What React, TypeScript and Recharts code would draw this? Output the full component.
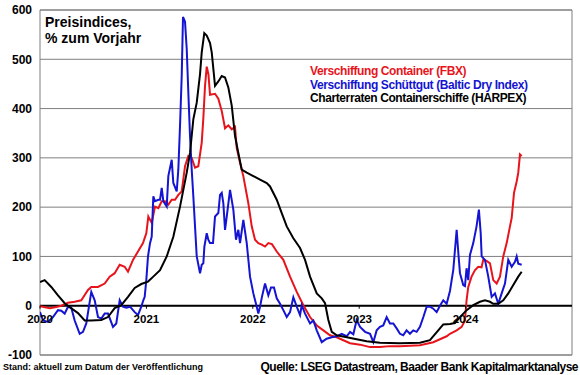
import React from 'react';
import { LineChart, Line, XAxis, YAxis, CartesianGrid, ReferenceLine, ReferenceArea } from 'recharts';

const FONT = 'Arial, "Liberation Sans", sans-serif';
const W = 580;
const H = 375;
const Y_MIN = -100;
const Y_MAX = 600;
const PLOT_TOP = 10;
const PLOT_BOTTOM = 355;

const yTicks = [-100, 0, 100, 200, 300, 400, 500, 600];
const xTicks = [2020, 2021, 2022, 2023, 2024];

const titleLines = ['Preisindices,', '% zum Vorjahr'];
const seriesNames = [
  'Verschiffung Container (FBX)',
  'Verschiffung Schüttgut (Baltic Dry Index)',
  'Charterraten Containerschiffe (HARPEX)',
];
const seriesColors = ['#e8141c', '#1414d2', '#000000'];
const footLeft = 'Stand: aktuell zum Datum der Veröffentlichung';
const footRight = 'Quelle: LSEG Datastream, Baader Bank Kapitalmarktanalyse';

// FBX (decimal year, % yoy)
const fbxDates = [
  2020.000, 2020.047, 2020.094, 2020.141, 2020.200, 2020.263, 2020.326, 2020.388, 2020.451, 2020.482,
  2020.545, 2020.608, 2020.655, 2020.702, 2020.749, 2020.796, 2020.827, 2020.874, 2020.921, 2020.968,
  2020.999, 2021.018, 2021.050, 2021.081, 2021.112, 2021.144, 2021.175, 2021.206, 2021.238, 2021.269,
  2021.300, 2021.332, 2021.363, 2021.394, 2021.426, 2021.457, 2021.488, 2021.520, 2021.535, 2021.551,
  2021.567, 2021.583, 2021.598, 2021.645, 2021.676, 2021.708, 2021.739, 2021.770, 2021.802, 2021.833,
  2021.849, 2021.880, 2021.911, 2021.958, 2021.990, 2022.021, 2022.052, 2022.084, 2022.115, 2022.146,
  2022.180, 2022.225, 2022.287, 2022.350, 2022.413, 2022.475, 2022.538, 2022.601, 2022.663, 2022.726,
  2022.789, 2022.851, 2022.914, 2023.008, 2023.102, 2023.195, 2023.289, 2023.383, 2023.477, 2023.571,
  2023.634, 2023.696, 2023.759, 2023.822, 2023.853, 2023.916, 2023.963, 2023.994, 2024.009, 2024.025,
  2024.056, 2024.087, 2024.119, 2024.150, 2024.166, 2024.198, 2024.229, 2024.260, 2024.292, 2024.323,
  2024.354, 2024.386, 2024.417, 2024.433, 2024.455, 2024.480, 2024.495, 2024.511, 2024.527,
];
const fbxValues = [
  -1, -3, -5, -3, 0, 6, 8, 11, 32, 38,
  38, 45, 59, 66, 83, 79, 69, 93, 110, 127,
  147, 181, 168, 201, 198, 212, 212, 205, 215, 215,
  225, 232, 283, 304, 300, 280, 283, 331, 380, 446,
  485, 470, 428, 430, 420, 395, 360, 366, 358, 363,
  320, 290, 263, 208, 161, 134, 127, 124, 120, 127,
  125, 110, 93, 59, 28, 1, -23, -40, -50, -60,
  -64, -70, -76, -79, -84, -84, -82, -82, -81, -80,
  -77, -74, -68, -62, -57, -50, -43, -30, 11, 38,
  59, 72, 79, 78, 93, 91, 86, 52, 45, 59,
  100, 127, 161, 178, 229, 252, 270, 307, 304,
];

// Baltic Dry Index
const bdiDates = [
  2020.000, 2020.028, 2020.075, 2020.122, 2020.169, 2020.200, 2020.232, 2020.263, 2020.294, 2020.326,
  2020.373, 2020.404, 2020.435, 2020.482, 2020.514, 2020.545, 2020.576, 2020.608, 2020.639, 2020.686,
  2020.717, 2020.749, 2020.780, 2020.811, 2020.846, 2020.890, 2020.921, 2020.952, 2020.971, 2020.984,
  2020.999, 2021.015, 2021.034, 2021.050, 2021.065, 2021.081, 2021.112, 2021.128, 2021.144, 2021.159,
  2021.191, 2021.206, 2021.238, 2021.253, 2021.285, 2021.300, 2021.316, 2021.332, 2021.344, 2021.363,
  2021.379, 2021.394, 2021.410, 2021.426, 2021.441, 2021.457, 2021.473, 2021.504, 2021.520, 2021.535,
  2021.545, 2021.567, 2021.582, 2021.598, 2021.626, 2021.645, 2021.676, 2021.692, 2021.708, 2021.723,
  2021.739, 2021.755, 2021.786, 2021.817, 2021.842, 2021.864, 2021.880, 2021.911, 2021.943, 2021.974,
  2022.005, 2022.037, 2022.052, 2022.068, 2022.086, 2022.115, 2022.146, 2022.171, 2022.199, 2022.225,
  2022.256, 2022.287, 2022.319, 2022.350, 2022.381, 2022.413, 2022.444, 2022.460, 2022.491, 2022.538,
  2022.569, 2022.601, 2022.648, 2022.694, 2022.742, 2022.789, 2022.835, 2022.883, 2022.914, 2022.945,
  2022.976, 2023.008, 2023.055, 2023.102, 2023.133, 2023.164, 2023.195, 2023.226, 2023.258, 2023.289,
  2023.320, 2023.352, 2023.383, 2023.414, 2023.445, 2023.477, 2023.508, 2023.540, 2023.571, 2023.603,
  2023.634, 2023.665, 2023.696, 2023.728, 2023.759, 2023.790, 2023.822, 2023.853, 2023.869, 2023.884,
  2023.900, 2023.916, 2023.932, 2023.947, 2023.978, 2023.994, 2024.009, 2024.025, 2024.041, 2024.072,
  2024.103, 2024.125, 2024.142, 2024.151, 2024.182, 2024.213, 2024.245, 2024.276, 2024.307, 2024.339,
  2024.370, 2024.401, 2024.433, 2024.464, 2024.480, 2024.495, 2024.527,
];
const bdiValues = [
  -13, -30, -33, -23, -9, -10, -16, -2, -4, -30,
  -57, -53, -36, 28, 11, -23, -26, -16, -16, -43,
  -36, 11, -2, -4, -2, -13, -19, -2, 11, 18,
  52, 100, 127, 140, 222, 212, 215, 215, 239, 212,
  201, 263, 296, 249, 232, 276, 365, 467, 586, 576,
  521, 433, 344, 276, 222, 161, 100, 66, 83, 86,
  120, 147, 134, 127, 127, 181, 188, 225, 229, 208,
  154, 181, 235, 195, 134, 154, 127, 174, 127, 59,
  25, -2, -16, -2, 18, 45, 21, 37, 37, 15,
  4, -9, -23, -13, 17, -2, -19, 1, -16, -36,
  -30, -50, -74, -67, -64, -62, -57, -62, -53, -58,
  -29, -43, -53, -57, -74, -50, -43, -40, -23, -36,
  -36, -46, -57, -60, -50, -57, -50, -53, -43, -23,
  -2, -2, -6, -13, 0, 11, 4, 30, 52, 72,
  113, 154, 106, 66, 42, 40, 76, 52, 103, 127,
  161, 195, 147, 100, 93, 59, 18, 25, 4, 25,
  45, 93, 79, 89, 100, 85, 83,
];

// HARPEX
const harpexDates = [
  2020.000, 2020.044, 2020.106, 2020.169, 2020.232, 2020.294, 2020.357, 2020.420, 2020.482, 2020.576,
  2020.639, 2020.702, 2020.764, 2020.827, 2020.890, 2020.952, 2021.015, 2021.065, 2021.128, 2021.191,
  2021.253, 2021.316, 2021.379, 2021.410, 2021.441, 2021.473, 2021.504, 2021.520, 2021.544, 2021.567,
  2021.582, 2021.598, 2021.614, 2021.645, 2021.676, 2021.708, 2021.739, 2021.770, 2021.802, 2021.833,
  2021.864, 2021.896, 2021.943, 2022.005, 2022.068, 2022.131, 2022.162, 2022.225, 2022.272, 2022.319,
  2022.381, 2022.444, 2022.491, 2022.538, 2022.601, 2022.648, 2022.679, 2022.710, 2022.742, 2022.789,
  2022.883, 2022.976, 2023.070, 2023.195, 2023.383, 2023.571, 2023.665, 2023.743, 2023.790, 2023.853,
  2023.900, 2023.947, 2024.010, 2024.072, 2024.135, 2024.182, 2024.229, 2024.260, 2024.307, 2024.354,
  2024.401, 2024.448, 2024.495, 2024.527,
];
const harpexValues = [
  48, 52, 38, 21, 5, -5, -15, -30, -30, -29,
  -23, -5, 1, 18, 36, 44, 49, 59, 72, 100,
  140, 201, 270, 310, 378, 412, 470, 514, 553, 548,
  541, 533, 514, 446, 455, 466, 463, 443, 406, 344,
  310, 276, 270, 263, 256, 249, 242, 215, 188, 161,
  137, 117, 93, 59, 25, 15, 5, -29, -53, -60,
  -64, -68, -72, -75, -76, -75, -70, -50, -38, -37,
  -35, -23, -9, 1, 8, 11, 8, 4, 4, 11,
  25, 42, 59, 69,
];

const toRows = (dates: number[], values: number[]) =>
  dates.slice(0, Math.min(dates.length, values.length)).map((t, i) => ({ t, v: values[i] }));

const fbxData = toRows(fbxDates, fbxValues);
const bdiData = toRows(bdiDates, bdiValues);
const harpexData = toRows(harpexDates, harpexValues);
const seriesData = [fbxData, bdiData, harpexData];

const XTick = (props: any) => {
  const { x, y, payload } = props;
  const zeroY = y - (PLOT_BOTTOM - PLOT_TOP) * (0 - Y_MIN) / (Y_MAX - Y_MIN);
  return (
    <g>
      <line x1={x} x2={x} y1={zeroY} y2={zeroY + 3} stroke="#000" strokeWidth={1} />
      <text x={x} y={zeroY + 17} textAnchor="middle" fill="#000" fontSize={11.5}
        fontWeight="bold" fontFamily={FONT}>{payload.value}</text>
    </g>
  );
};

export default function App() {
  return (
    <div style={{ position: 'absolute', left: 0, top: 0, width: W, height: H, background: '#fff', fontFamily: FONT }}>
      <LineChart width={W} height={H} margin={{ top: PLOT_TOP, right: 8, bottom: 0, left: 0 }}>
        <CartesianGrid vertical={false} stroke="#7f7f7f" strokeWidth={1} />
        <XAxis type="number" dataKey="t" domain={[2020, 2025]} ticks={xTicks} allowDataOverflow
          height={H - PLOT_BOTTOM} axisLine={false} tickLine={false} tickSize={0} tickMargin={0}
          tick={<XTick />} interval={0} />
        <YAxis type="number" domain={[Y_MIN, Y_MAX]} ticks={yTicks} width={40} interval={0}
          axisLine={false} tickLine={false}
          tick={{ fill: '#000', fontSize: 12, fontWeight: 'bold', fontFamily: FONT }} />
        <ReferenceArea x1={2020} x2={2025} y1={Y_MIN} y2={Y_MAX} fill="none" fillOpacity={0}
          stroke="#7f7f7f" strokeWidth={1} />
        <ReferenceLine y={0} stroke="#000" strokeWidth={2} />
        {seriesData.map((d, i) => (
          <Line key={seriesNames[i]} data={d} dataKey="v" name={seriesNames[i]} type="linear"
            stroke={seriesColors[i]} strokeWidth={2} dot={false} isAnimationActive={false} />
        ))}
      </LineChart>
      <div style={{ position: 'absolute', left: 45, top: 14, fontSize: 14, fontWeight: 'bold', lineHeight: '16px', color: '#000' }}>
        {titleLines.map((l) => <div key={l}>{l}</div>)}
      </div>
      <div style={{ position: 'absolute', left: 310, top: 65, fontSize: 12, fontWeight: 'bold', lineHeight: '13.5px', letterSpacing: '-0.4px', whiteSpace: 'nowrap' }}>
        {seriesNames.map((n, i) => <div key={n} style={{ color: seriesColors[i] }}>{n}</div>)}
      </div>
      <div style={{ position: 'absolute', left: 3, top: 362, fontSize: 9, fontWeight: 'bold', lineHeight: '11px', whiteSpace: 'nowrap' }}>
        {footLeft}
      </div>
      <div style={{ position: 'absolute', right: 2, top: 360, fontSize: 12, fontWeight: 'bold', lineHeight: '14px', letterSpacing: '-0.5px', whiteSpace: 'nowrap' }}>
        {footRight}
      </div>
    </div>
  );
}
